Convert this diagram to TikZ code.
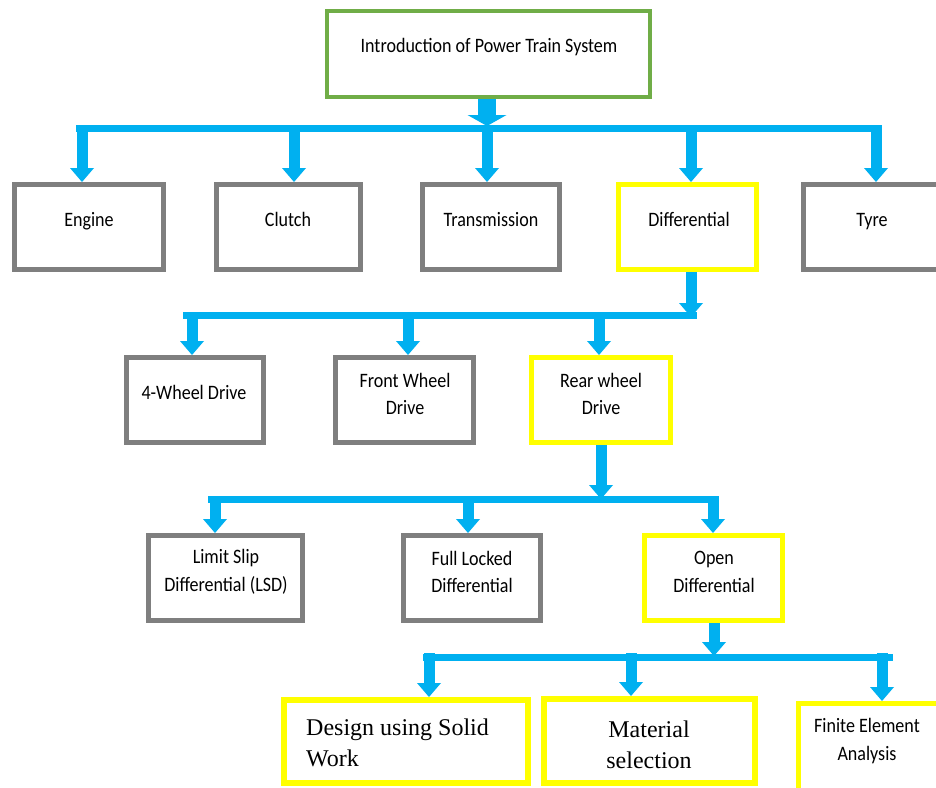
\documentclass[tikz,border=0pt]{standalone}
\usepackage{fontspec}
\setmainfont{Carlito}[FakeStretch=0.88]
\newfontfamily\serifrm{Liberation Serif}
\usetikzlibrary{arrows.meta}
\definecolor{cy}{HTML}{00B0F0}
\definecolor{gr}{HTML}{7F7F7F}
\definecolor{gn}{HTML}{70AD47}
\definecolor{yl}{HTML}{FFFF00}
\tikzset{
  box/.style={draw, line width=5pt, inner sep=0pt, fill=white},
  gbox/.style={box, draw=gr},
  ybox/.style={box, draw=yl},
  txt/.style={inner sep=0pt, align=center, font=\fontsize{20.5}{27.5}\selectfont},
  ltxt/.style={txt, anchor=base},
  stxt/.style={inner sep=0pt, font=\serifrm\fontsize{24}{31.5}\selectfont},
  bar/.style={draw=cy, line width=7pt},
  arr/.style={draw=cy, line width=11pt, -{Triangle[width=24pt,length=14pt,line width=0pt]}},
  bigarr/.style={draw=cy, line width=18pt, -{Triangle[width=39pt,length=11pt,line width=0pt]}}
}
\begin{document}
\begin{tikzpicture}[x=1pt,y=-1pt]
\useasboundingbox (0,0) rectangle (936,787);
\clip (0,0) rectangle (936,787);
\fill[white] (0,0) rectangle (936,787);

% boxes
\node[box, draw=gn, line width=4pt, minimum width=323pt, minimum height=86pt] (top) at (488.5,54) {};
\node[ltxt] (top-t) at (489,52) {Introduction of Power Train System};

\node[gbox, minimum width=149pt, minimum height=85pt] (engine) at (89,227) {};
\node[ltxt] (engine-t) at (89,226) {Engine};
\node[gbox, minimum width=144pt, minimum height=85pt] (clutch) at (288.5,227) {};
\node[ltxt] (clutch-t) at (288,226) {Clutch};
\node[gbox, minimum width=137pt, minimum height=85pt] (trans) at (491,227) {};
\node[ltxt] (trans-t) at (491,226) {Transmission};
\node[ybox, minimum width=138pt, minimum height=85pt] (diff) at (687.5,227) {};
\node[ltxt] (diff-t) at (689,226) {Differential};
\node[gbox, minimum width=144pt, minimum height=85pt] (tyre) at (875.5,227) {};
\node[ltxt] (tyre-t) at (872,226) {Tyre};

\node[gbox, minimum width=137pt, minimum height=85pt] (fourwd) at (195,400) {};
\node[ltxt] (fourwd-t) at (194,399) {4-Wheel Drive};
\node[gbox, minimum width=138pt, minimum height=85pt] (fwd) at (404.5,400) {};
\node[txt] (fwd-t) at (405,394) {Front Wheel\\Drive};
\node[ybox, minimum width=139pt, minimum height=85pt] (rwd) at (601,400) {};
\node[txt] (rwd-t) at (601,394) {Rear wheel\\Drive};

\node[gbox, minimum width=154pt, minimum height=85pt] (lsd) at (225.5,578) {};
\node[txt] (lsd-t) at (226,572) {Limit Slip\\Differential (LSD)};
\node[gbox, minimum width=137pt, minimum height=85pt] (fld) at (472,578) {};
\node[txt] (fld-t) at (472,572) {Full Locked\\Differential};
\node[ybox, minimum width=138pt, minimum height=85pt] (od) at (713.5,578) {};
\node[txt] (od-t) at (714,572) {Open\\Differential};

\node[ybox, line width=6pt, minimum width=244pt, minimum height=83pt] (design) at (406,741.5) {};
\node[stxt, anchor=west, align=left] (design-t) at (306,743) {Design using Solid\\Work};
\node[ybox, line width=6pt, minimum width=211pt, minimum height=84pt] (material) at (649.5,741) {};
\node[stxt, align=center] (material-t) at (649,745) {Material\\selection};
\node[ybox, minimum width=149pt, minimum height=94pt] (fea) at (873,750.5) {};
\node[txt] (fea-t) at (867,741) {Finite Element\\Analysis};

% level 1
\coordinate (b1L) at (76,128.5);
\coordinate (b1R) at (881,128.5);
\draw[bar] (b1L) -- (b1R);
\coordinate (t1) at (487,126);
\draw[bigarr] (top.south -| t1) -- (t1);
\coordinate (d11) at (82,125);
\coordinate (d12) at (294,125);
\coordinate (d13) at (487,125);
\coordinate (d14) at (691,125);
\coordinate (d15) at (876,125);
\draw[arr] (d11) -- (d11 |- engine.north);
\draw[arr] (d12) -- (d12 |- clutch.north);
\draw[arr] (d13) -- (d13 |- trans.north);
\draw[arr] (d14) -- (d14 |- diff.north);
\draw[arr] (d15) -- (d15 |- tyre.north);

% level 2
\coordinate (b2L) at (183,315);
\coordinate (b2R) at (697,315);
\draw[bar] (b2L) -- (b2R);
\coordinate (t2) at (691,317);
\draw[arr] (diff.south -| t2) -- (t2);
\coordinate (d21) at (192,312);
\coordinate (d22) at (408,312);
\coordinate (d23) at (599,312);
\draw[arr] (d21) -- (d21 |- fourwd.north);
\draw[arr] (d22) -- (d22 |- fwd.north);
\draw[arr] (d23) -- (d23 |- rwd.north);

% level 3
\coordinate (b3L) at (208,499.5);
\coordinate (b3R) at (718,499.5);
\draw[bar] (b3L) -- (b3R);
\coordinate (t3) at (601,499);
\draw[arr] (rwd.south -| t3) -- (t3);
\coordinate (d31) at (215,496);
\coordinate (d32) at (468,496);
\coordinate (d33) at (713,496);
\draw[arr] (d31) -- (d31 |- lsd.north);
\draw[arr] (d32) -- (d32 |- fld.north);
\draw[arr] (d33) -- (d33 |- od.north);

% level 4
\coordinate (b4L) at (423,657);
\coordinate (b4R) at (893,657);
\draw[bar] (b4L) -- (b4R);
\coordinate (t4) at (714,656);
\draw[arr] (od.south -| t4) -- (t4);
\coordinate (d41) at (429,653);
\coordinate (d42) at (631,653);
\coordinate (d43) at (882,653);
\draw[arr] (d41) -- (d41 |- design.north);
\draw[arr] (d42) -- (d42 |- material.north);
\draw[arr] (d43) -- (d43 |- fea.north);
\end{tikzpicture}
\end{document}
